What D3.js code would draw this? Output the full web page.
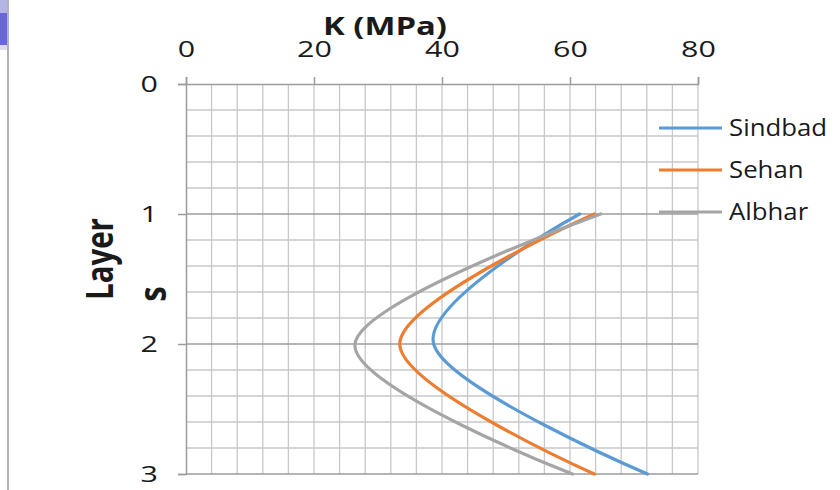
<!DOCTYPE html>
<html>
<head>
<meta charset="utf-8">
<script src="https://cdn.jsdelivr.net/npm/d3@7/dist/d3.min.js"></script>
<style>
  html, body { margin: 0; padding: 0; background: #ffffff; }
  svg { display: block; }
  text { font-family: "Open Sans", "Noto Sans", sans-serif; fill: #1a1a1a; }
</style>
</head>
<body>
<svg id="chart" width="840" height="490"></svg>
<script>
// Layer positions (depth axis) and K values per site
const layers = [1, 2, 3];
const seriesNames = ["Sindbad", "Sehan", "Albhar"];
const sindbad = [61.5, 38.7, 72.1];
const sehan = [63.8, 33.4, 63.8];
const albhar = [64.8, 26.4, 60.4];
const seriesColors = ["#5B9BD5", "#ED7D31", "#A5A5A5"];
const xTicks = [0, 20, 40, 60, 80];
const yTicks = [0, 1, 2, 3];

const series = [sindbad, sehan, albhar].map((vals, i) => ({
  name: seriesNames[i],
  color: seriesColors[i],
  points: vals.map((k, j) => ({ k: k, layer: layers[j] }))
}));

const svg = d3.select("#chart");

// widen text horizontally by a factor of its natural width
function widen(sel, factor) {
  sel.each(function () {
    const w = this.getComputedTextLength();
    d3.select(this).attr("textLength", w * factor).attr("lengthAdjust", "spacingAndGlyphs");
  });
}

// window edge decoration on the left
svg.append("rect").attr("x", 0).attr("y", 0).attr("width", 7).attr("height", 13).attr("fill", "#b4b4e6");
svg.append("rect").attr("x", 0).attr("y", 13).attr("width", 7).attr("height", 32).attr("fill", "#6767d6");
svg.append("rect").attr("x", 0).attr("y", 45).attr("width", 7).attr("height", 5).attr("fill", "#dcdcec");
svg.append("line").attr("x1", 8).attr("x2", 8).attr("y1", 0).attr("y2", 490)
  .attr("stroke", "#9a9a9a").attr("stroke-width", 1.5);

const plotLeft = 186, plotRight = 698, plotTop = 84, plotBottom = 474;

const x = d3.scaleLinear().domain([0, 80]).range([plotLeft, plotRight]);
const y = d3.scaleLinear().domain([0, 3]).range([plotTop, plotBottom]);

// grid: minor every 4 MPa and every 0.2 layer
const grid = svg.append("g");
grid.selectAll("line.v").data(d3.range(4, 80.1, 4)).enter().append("line")
  .attr("x1", d => x(d)).attr("x2", d => x(d))
  .attr("y1", plotTop).attr("y2", plotBottom)
  .attr("stroke", "#c8c8c8").attr("stroke-width", 1.3);
grid.selectAll("line.h").data(d3.range(0.2, 3.01, 0.2)).enter().append("line")
  .attr("x1", plotLeft).attr("x2", plotRight)
  .attr("y1", d => y(d)).attr("y2", d => y(d))
  .attr("stroke", d => (Math.abs(d - Math.round(d)) < 1e-6 ? "#9c9c9c" : "#c8c8c8"))
  .attr("stroke-width", 1.3);

// top axis (K)
const xAxis = svg.append("g").attr("transform", `translate(0,${plotTop})`)
  .call(d3.axisTop(x).tickValues(xTicks).tickFormat(d3.format("d")).tickSize(7).tickPadding(20));
xAxis.select(".domain").attr("stroke", "#9c9c9c").attr("stroke-width", 1.5);
xAxis.selectAll(".tick line").attr("stroke", "#9c9c9c").attr("stroke-width", 1.5);
xAxis.selectAll(".tick text").attr("font-size", null).style("font-size", "21px").attr("fill", "#1a1a1a")
  .style("font-family", "'Open Sans', sans-serif");
widen(xAxis.selectAll(".tick text"), 1.45);

// left axis (layer)
const yAxis = svg.append("g").attr("transform", `translate(${plotLeft},0)`)
  .call(d3.axisLeft(y).tickValues(yTicks).tickFormat(d3.format("d")).tickSize(8).tickPadding(20));
yAxis.select(".domain").attr("stroke", "#9c9c9c").attr("stroke-width", 1.5);
yAxis.selectAll(".tick line").attr("stroke", "#9c9c9c").attr("stroke-width", 1.5);
yAxis.selectAll(".tick text").style("font-size", "21px").attr("fill", "#1a1a1a")
  .attr("dy", "0.38em").style("font-family", "'Open Sans', sans-serif");
widen(yAxis.selectAll(".tick text"), 1.45);

// axis titles
svg.append("text").attr("x", 385).attr("y", 35).attr("text-anchor", "middle")
  .style("font-size", "25px").style("font-weight", "bold")
  .attr("textLength", 124).attr("lengthAdjust", "spacingAndGlyphs").text("K (MPa)");
svg.append("text").attr("transform", "translate(113,259) rotate(-90) scale(1,1.2)")
  .attr("text-anchor", "middle").style("font-size", "31px").style("font-weight", "bold")
  .attr("textLength", 82).attr("lengthAdjust", "spacingAndGlyphs").text("Layer");
svg.append("text").attr("transform", "translate(166,294) rotate(-90) scale(1,1.2)")
  .attr("text-anchor", "middle").style("font-size", "31px").style("font-weight", "bold").text("s");

// smoothed series lines
const line = d3.line()
  .x(d => x(d.k))
  .y(d => y(d.layer))
  .curve(d3.curveCardinal.tension(0));

svg.append("g").selectAll("path").data(series).enter().append("path")
  .attr("d", d => line(d.points))
  .attr("fill", "none")
  .attr("stroke", d => d.color)
  .attr("stroke-width", 3.2)
  .attr("stroke-linecap", "round");

// legend
const legend = svg.append("g").selectAll("g").data(series).enter().append("g")
  .attr("transform", (d, i) => `translate(659,${128 + i * 42})`);
legend.append("line").attr("x1", 0).attr("x2", 63).attr("y1", 0).attr("y2", 0)
  .attr("stroke", d => d.color).attr("stroke-width", 3.2);
legend.append("text").attr("x", 70).attr("y", 8).style("font-size", "23px").text(d => d.name);
widen(legend.selectAll("text"), 1.12);
</script>
</body>
</html>
